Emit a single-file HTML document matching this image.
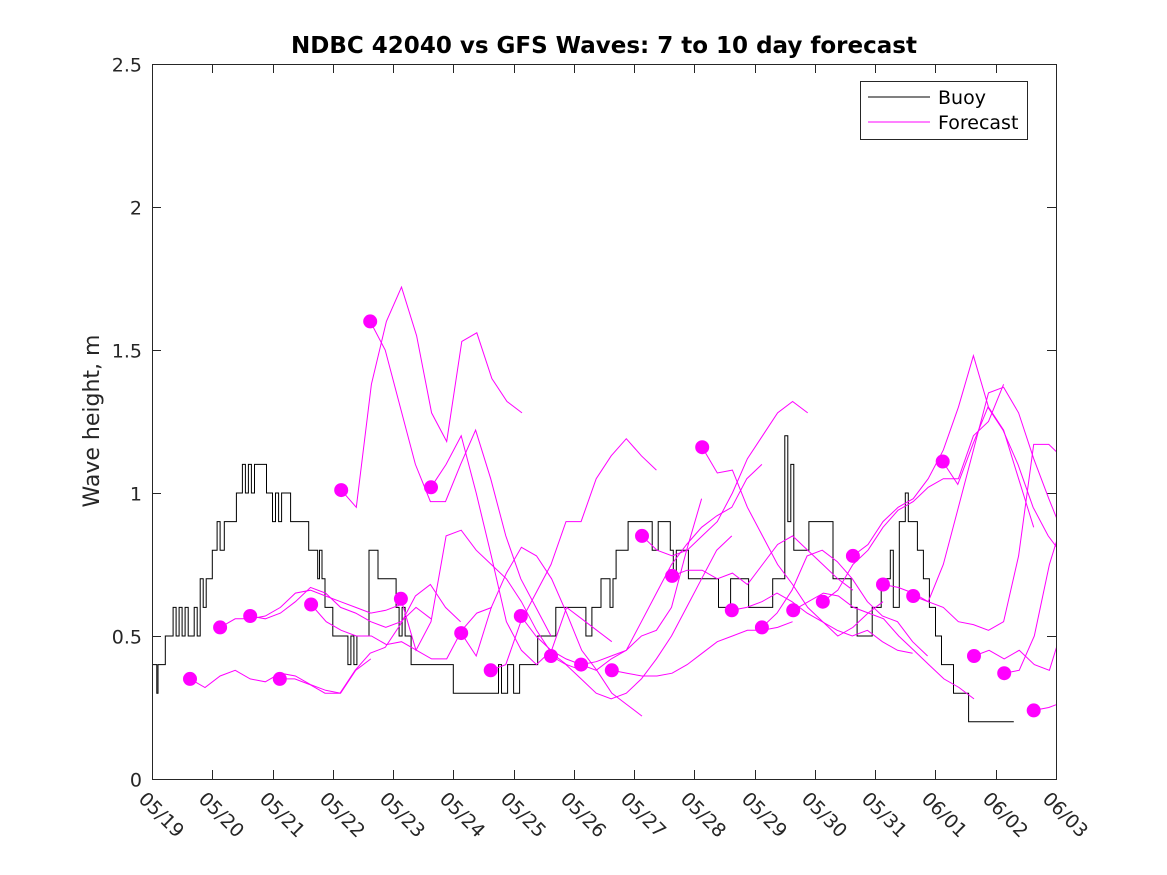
<!DOCTYPE html>
<html><head><meta charset="utf-8"><style>
body{margin:0;background:#fff}
svg{display:block;font-family:"DejaVu Sans","Liberation Sans",sans-serif}
</style></head><body>
<svg id="chart" width="1167" height="875" viewBox="0 0 1167 875">
<defs><clipPath id="pc"><rect x="152" y="64" width="904" height="715"/></clipPath></defs>
<rect x="0" y="0" width="1167" height="875" fill="#fff"/>
<text x="604" y="53" text-anchor="middle" font-size="23" font-weight="bold" fill="#000">NDBC 42040 vs GFS Waves: 7 to 10 day forecast</text>
<text transform="translate(99,421) rotate(-90)" text-anchor="middle" font-size="22" fill="#262626">Wave height, m</text>
<g id="axes"></g>
<g id="series" clip-path="url(#pc)"></g>
<rect x="152.5" y="64.5" width="904" height="715" fill="none" stroke="#262626" stroke-width="1"/>
<g>
<rect x="860.5" y="81.5" width="167" height="58" fill="#fff" stroke="#262626"/>
<line x1="868" y1="97" x2="930" y2="97" stroke="#000"/>
<text x="938" y="104" font-size="19" fill="#000">Buoy</text>
<line x1="868" y1="122" x2="930" y2="122" stroke="#ff00ff"/>
<text x="938" y="129" font-size="19" fill="#000">Forecast</text>
</g>
</svg>
<script>
const yTicks=[0,0.5,1,1.5,2,2.5];
const yTickLabels=["0","0.5","1","1.5","2","2.5"];
const xTickLabels=["05/19","05/20","05/21","05/22","05/23","05/24","05/25","05/26","05/27","05/28","05/29","05/30","05/31","06/01","06/02","06/03"];
const buoyT=[0,0.08,0.1,0.22,0.35,0.4,0.45,0.5,0.55,0.6,0.7,0.75,0.8,0.85,0.9,0.95,1.0,1.08,1.13,1.2,1.4,1.5,1.55,1.6,1.65,1.7,1.8,1.9,2.0,2.05,2.1,2.15,2.2,2.3,2.45,2.6,2.75,2.78,2.82,2.87,2.9,3.0,3.2,3.25,3.3,3.35,3.4,3.5,3.6,3.75,3.8,4.05,4.1,4.15,4.2,4.3,5.0,5.75,5.8,5.9,6.0,6.1,6.4,6.6,6.7,7.2,7.3,7.45,7.6,7.65,7.7,7.9,8.3,8.4,8.6,8.65,8.7,8.9,9.4,9.6,9.9,10.3,10.5,10.55,10.6,10.65,10.9,11.3,11.6,11.7,11.95,12.1,12.25,12.3,12.4,12.5,12.55,12.7,12.8,12.9,13.0,13.1,13.3,13.5,13.55,14.3];
const buoyV=[0.4,0.3,0.4,0.5,0.6,0.5,0.6,0.5,0.6,0.5,0.6,0.5,0.7,0.6,0.7,0.7,0.8,0.9,0.8,0.9,1.0,1.1,1.0,1.1,1.0,1.1,1.1,1.0,0.9,1.0,0.9,1.0,1.0,0.9,0.9,0.8,0.7,0.8,0.7,0.6,0.6,0.5,0.5,0.4,0.5,0.4,0.5,0.5,0.8,0.7,0.7,0.6,0.5,0.6,0.5,0.4,0.3,0.4,0.3,0.4,0.3,0.4,0.5,0.5,0.6,0.5,0.6,0.7,0.6,0.7,0.8,0.9,0.8,0.9,0.8,0.7,0.8,0.7,0.6,0.7,0.6,0.7,1.2,0.9,1.1,0.8,0.9,0.7,0.6,0.5,0.6,0.7,0.8,0.6,0.9,1.0,0.9,0.8,0.7,0.6,0.5,0.4,0.3,0.3,0.2,0.2];
const fcStart=[0.63,1.13,1.63,2.12,2.64,3.14,3.62,4.13,4.63,5.13,5.62,6.12,6.62,7.12,7.63,8.13,8.63,9.13,9.62,10.12,10.64,11.13,11.63,12.13,12.63,13.12,13.64,14.14,14.63];
const fcVals=[
[0.35,0.32,0.36,0.38,0.35,0.34,0.37,0.36,0.33,0.31,0.30,0.38,0.42],
[0.53,0.56,0.56,0.57,0.60,0.65,0.66,0.64,0.62,0.60,0.58,0.59,0.61],
[0.57,0.56,0.58,0.62,0.67,0.65,0.60,0.58,0.55,0.53,0.55,0.60,0.56],
[0.35,0.35,0.33,0.30,0.30,0.38,0.44,0.46,0.54,0.64,0.68,0.60,0.55],
[0.61,0.55,0.52,0.50,0.50,0.47,0.48,0.45,0.42,0.42,0.52,0.58,0.60],
[1.01,0.95,1.38,1.60,1.72,1.55,1.28,1.18,1.53,1.56,1.40,1.32,1.28],
[1.60,1.50,1.30,1.10,0.97,0.97,1.10,1.22,1.05,0.85,0.70,0.60,0.50],
[0.63,0.45,0.55,0.85,0.87,0.80,0.75,0.70,0.62,0.52,0.44,0.40,0.38],
[1.02,1.10,1.20,1.00,0.78,0.55,0.45,0.40,0.45,0.60,0.56,0.52,0.48],
[0.51,0.43,0.60,0.72,0.81,0.78,0.70,0.58,0.45,0.38,0.30,0.26,0.22],
[0.38,0.40,0.55,0.65,0.75,0.90,0.90,1.05,1.13,1.19,1.13,1.08],
[0.57,0.50,0.45,0.42,0.40,0.41,0.43,0.45,0.50,0.52,0.60,0.80,0.98],
[0.43,0.40,0.35,0.30,0.28,0.30,0.35,0.42,0.50,0.60,0.70,0.80,0.85],
[0.40,0.38,0.42,0.45,0.55,0.65,0.75,0.82,0.88,0.92,0.95,1.05,1.10],
[0.38,0.37,0.36,0.36,0.37,0.40,0.44,0.48,0.50,0.52,0.52,0.53,0.55],
[0.85,0.80,0.78,0.80,0.85,0.90,1.00,1.12,1.20,1.28,1.32,1.28],
[0.71,0.73,0.73,0.70,0.72,0.68,0.75,0.82,0.85,0.80,0.75,0.70,0.66],
[1.16,1.07,1.08,0.95,0.85,0.75,0.68,0.60,0.55,0.50,0.53,0.58,0.62],
[0.59,0.60,0.62,0.65,0.62,0.58,0.55,0.52,0.50,0.52,0.48,0.45,0.44],
[0.53,0.58,0.66,0.78,0.80,0.76,0.70,0.62,0.57,0.55,0.48,0.43],
[0.59,0.62,0.65,0.64,0.60,0.58,0.56,0.50,0.45,0.40,0.35,0.32,0.28],
[0.62,0.66,0.75,0.80,0.88,0.94,0.97,1.02,1.05,1.05,1.20,1.25,1.38],
[0.78,0.82,0.90,0.95,0.98,1.05,1.15,1.30,1.48,1.30,1.22,1.05,0.88],
[0.68,0.67,0.65,0.62,0.60,0.55,0.54,0.52,0.55,0.78,1.17,1.17,1.12],
[0.64,0.62,0.75,0.95,1.15,1.35,1.37,1.28,1.12,0.98,0.85,0.80,0.65],
[1.11,1.03,1.17,1.30,1.22,1.10,0.95,0.85,0.78,0.62,0.50,0.60,0.88],
[0.43,0.45,0.42,0.45,0.40,0.38,0.55,0.88,0.85,0.80,0.70,0.65,0.55],
[0.37,0.38,0.50,0.75,0.92,1.02,1.02,0.98,0.90,0.80],
[0.24,0.25,0.27]
];
const X0=152,X1=1056,Y0=779,Y1=64;
const xs=d=>X0+d*(X1-X0)/15;
const ys=v=>Y0-v*(Y0-Y1)/2.5;
const NS='http://www.w3.org/2000/svg';
function mk(tag,attrs,parent){const e=document.createElementNS(NS,tag);for(const k in attrs)e.setAttribute(k,attrs[k]);parent.appendChild(e);return e;}
const axes=document.getElementById('axes');
yTicks.forEach((t,i)=>{
  const y=Math.round(ys(t))+0.5;
  const l1=mk('line',{x1:152,y1:y,x2:161,y2:y,stroke:'#262626'},axes);
  
  
  const l2=mk('line',{x1:1047,y1:y,x2:1056,y2:y,stroke:'#262626'},axes);
  
  
  const tx=mk('text',{x:142,y:y+7,'text-anchor':'end','font-size':19,fill:'#262626'},axes);
  tx.textContent=yTickLabels[i];
  
  
});
xTickLabels.forEach((lab,i)=>{
  const x=Math.round(xs(i))+0.5;
  const l1=mk('line',{x1:x,y1:779,x2:x,y2:770,stroke:'#262626'},axes);
  
  
  const l2=mk('line',{x1:x,y1:64,x2:x,y2:73,stroke:'#262626'},axes);
  
  
  const tx=mk('text',{transform:`translate(${x-15},${800}) rotate(45)`,'font-size':19,fill:'#262626'},axes);
  tx.textContent=lab;
  
  
});
const series=document.getElementById('series');
let d='';
buoyT.forEach((t,i)=>{
  const x=xs(t).toFixed(1),y=ys(buoyV[i]).toFixed(1);
  if(i===0)d+=`M${x},${y}`;else d+=`H${x}V${y}`;
});
const bp=mk('path',{d:d,fill:'none',stroke:'#000','stroke-width':1},series);


fcStart.forEach((s,k)=>{
  const pts=fcVals[k].map((v,j)=>xs(s+j*0.25).toFixed(1)+','+ys(v).toFixed(1)).join(' ');
  const pl=mk('polyline',{points:pts,fill:'none',stroke:'#ff00ff','stroke-width':1},series);
  
  
});
fcStart.forEach((s,k)=>{
  const c=mk('circle',{cx:xs(s).toFixed(1),cy:ys(fcVals[k][0]).toFixed(1),r:7,fill:'#ff00ff'},series);
  
  
});
</script>
</body></html>
